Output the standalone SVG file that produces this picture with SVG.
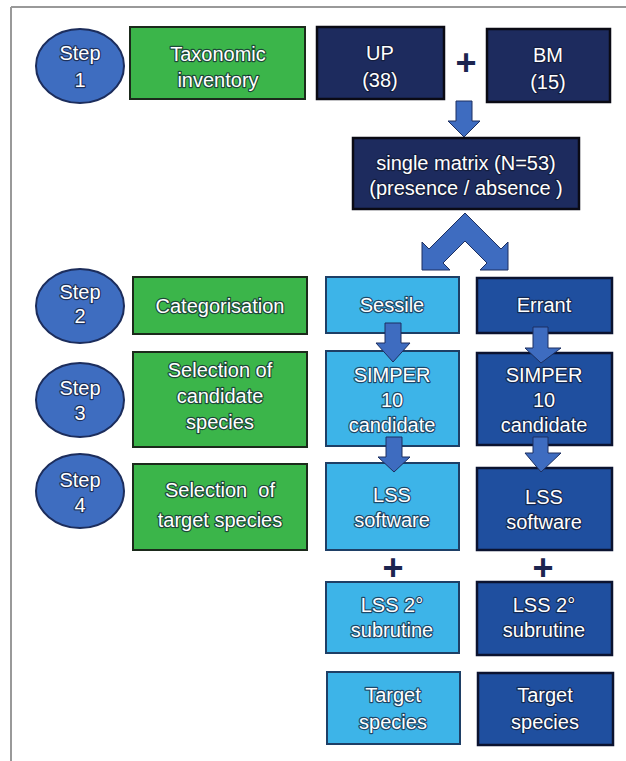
<svg xmlns="http://www.w3.org/2000/svg" width="626" height="761" viewBox="0 0 626 761">
<style>
text{font-family:"Liberation Sans",Arial,sans-serif;font-size:20px;fill:#fff;text-anchor:middle;paint-order:stroke;stroke:#101830;stroke-width:2.4px;stroke-opacity:0.7;stroke-linejoin:round}
.green{fill:#3bb54a;stroke:#1b2a1b;stroke-width:2}
.navy{fill:#1d2b5e;stroke:#0a0a14;stroke-width:2.5}
.light{fill:#3db4e8;stroke:#1e3f66;stroke-width:2}
.dark{fill:#1f4f9f;stroke:#0b1330;stroke-width:2.5}
.step{fill:#3e6dc0;stroke:#1c2d5c;stroke-width:2}
.arrow{fill:#3e6cc0;stroke:#1c2f60;stroke-width:1}
.plus{font-size:36px;font-weight:bold;fill:#1c2550;stroke:none}
</style>
<rect x="0" y="0" width="626" height="761" fill="#fff"/>
<g id="frame" stroke="#999" stroke-width="2" fill="none">
<line x1="11" y1="7" x2="626" y2="7"/>
<line x1="11" y1="7" x2="11" y2="761"/>
</g>
<g id="step1"><ellipse class="step" cx="80" cy="66" rx="44" ry="37"/><text x="80" y="60">Step</text><text x="80" y="87">1</text></g>
<g id="step2"><ellipse class="step" cx="80" cy="306" rx="44" ry="37"/><text x="80" y="299">Step</text><text x="80" y="323">2</text></g>
<g id="step3"><ellipse class="step" cx="80" cy="400" rx="44" ry="37"/><text x="80" y="395">Step</text><text x="80" y="420">3</text></g>
<g id="step4"><ellipse class="step" cx="80" cy="491" rx="44" ry="37"/><text x="80" y="487">Step</text><text x="80" y="512">4</text></g>
<g id="taxonomic"><rect class="green" x="130" y="27" width="175" height="72"/><text x="218" y="61">Taxonomic</text><text x="218" y="87">inventory</text></g>
<g id="categorisation"><rect class="green" x="133" y="277" width="174" height="57"/><text x="220" y="313">Categorisation</text></g>
<g id="candidate"><rect class="green" x="133" y="352" width="174" height="95"/><text x="220" y="377">Selection of</text><text x="220" y="403">candidate</text><text x="220" y="429">species</text></g>
<g id="target"><rect class="green" x="133" y="464" width="174" height="86"/><text x="220" y="497" xml:space="preserve">Selection  of</text><text x="220" y="527">target species</text></g>
<g id="up"><rect class="navy" x="317" y="27" width="127" height="72"/><text x="380" y="60">UP</text><text x="380" y="87">(38)</text></g>
<g id="bm"><rect class="navy" x="487" y="29" width="123" height="73"/><text x="548" y="62">BM</text><text x="548" y="89">(15)</text></g>
<text class="plus" x="466" y="75">+</text>
<g id="matrix"><rect class="navy" x="353" y="138" width="226" height="71"/><text x="466" y="170">single matrix (N=53)</text><text x="466" y="195">(presence / absence )</text></g>
<g id="sessile"><rect class="light" x="326" y="277" width="133" height="56"/><text x="392" y="312">Sessile</text></g>
<g id="errant"><rect class="dark" x="477" y="278" width="135" height="55"/><text x="544" y="312">Errant</text></g>
<g id="simper-s"><rect class="light" x="326" y="351" width="133" height="95"/><text x="392" y="382">SIMPER</text><text x="392" y="407">10</text><text x="392" y="432">candidate</text></g>
<g id="simper-e"><rect class="dark" x="477" y="353" width="135" height="92"/><text x="544" y="382">SIMPER</text><text x="544" y="407">10</text><text x="544" y="432">candidate</text></g>
<g id="lss-s"><rect class="light" x="326" y="463" width="133" height="87"/><text x="392" y="502">LSS</text><text x="392" y="527">software</text></g>
<g id="lss-e"><rect class="dark" x="477" y="468" width="135" height="82"/><text x="544" y="504">LSS</text><text x="544" y="529">software</text></g>
<text class="plus" x="393" y="580">+</text>
<text class="plus" x="543" y="580">+</text>
<g id="lss2-s"><rect class="light" x="326" y="582" width="133" height="71"/><text x="392" y="612">LSS 2°</text><text x="392" y="637">subrutine</text></g>
<g id="lss2-e"><rect class="dark" x="477" y="582" width="135" height="73"/><text x="544" y="612">LSS 2°</text><text x="544" y="637">subrutine</text></g>
<g id="target-s"><rect class="light" x="327" y="672" width="133" height="72"/><text x="393" y="702">Target</text><text x="393" y="729">species</text></g>
<g id="target-e"><rect class="dark" x="478" y="673" width="135" height="72"/><text x="545" y="702">Target</text><text x="545" y="729">species</text></g>
<g id="connectors">
<polygon class="arrow" points="456,101 472,101 472,121 480,121 464,137 448,121 456,121"/>
<polygon class="arrow" points="465,213 501,249 508,242 508,270 480,270 487,263 465,241 443,263 450,270 422,270 422,242 429,249"/>
<polygon class="arrow" points="385,323 401,323 401,343 410,343 393,362 376,343 385,343"/>
<polygon class="arrow" points="386,437 402,437 402,457 410,457 394,472 378,457 386,457"/>
<polygon class="arrow" points="533,327 548,327 548,348 561,348 541,363 525,348 533,348"/>
<polygon class="arrow" points="533,437 548,437 548,453 561,453 541,472 525,453 533,453"/>
</g>
</svg>
